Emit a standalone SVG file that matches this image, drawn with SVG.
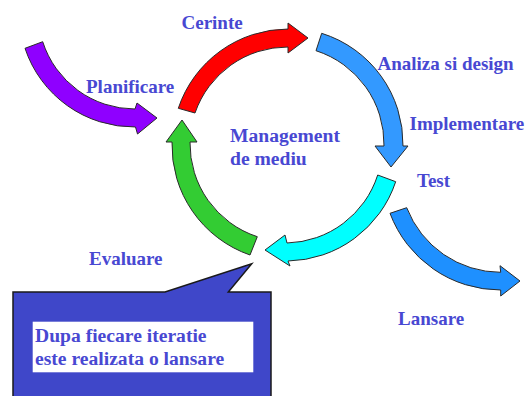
<svg xmlns="http://www.w3.org/2000/svg" width="529" height="396" viewBox="0 0 529 396">
  <style>
    .lbl { font-family: "Liberation Serif", "Times New Roman", serif; font-weight: bold; font-size: 19px; fill: #4848D2; }
    .big { font-size: 19.6px; }
    .arr { stroke: #2a2a2a; stroke-width: 1; stroke-linejoin: miter; }
  </style>
  <rect width="529" height="396" fill="#ffffff"/>
  <g id="connectors">
    <path id="arrow-planificare" class="arr" fill="#8F00FF" d="M25,48.3 A115,115 0 0 0 135.5,127 L137.5,134 L157,118 L137,103 L135,109 A97,97 0 0 1 42.7,41.7 Z"/>
    <path id="arrow-cerinte" class="arr" fill="#FF0000" d="M178.3,108.3 A116,116 0 0 1 288,29 L288,23 L308,38 L288,53 L288,47 A98,98 0 0 0 195,113 Z"/>
    <path id="arrow-analiza" class="arr" fill="#3399FF" d="M321.7,33.3 A116,116 0 0 1 403,146 L408,146 L391,167 L375,146 L384,146 A98,98 0 0 0 316,50.7 Z"/>
    <path id="arrow-test" class="arr" fill="#00FFFF" d="M395.7,181.7 A116,116 0 0 1 288,261 L290,266 L265,250 L285,235 L287,243 A98,98 0 0 0 377.7,175 Z"/>
    <path id="arrow-evaluare" class="arr" fill="#33CC33" d="M250,255 A116,116 0 0 1 172,142 L166,142 L182,120 L197,142 L190,142 A98,98 0 0 0 257.3,236.7 Z"/>
    <path id="arrow-lansare" class="arr" fill="#1E90FF" d="M390,213.3 A118,118 0 0 0 500.7,290 L500.7,296 L520,281 L500,265.7 L500.7,272.3 A101,101 0 0 1 406.7,207.7 Z"/>
  </g>
  <g id="node-cerinte"><text class="lbl" x="181.5" y="29">Cerinte</text></g>
  <g id="node-planificare"><text class="lbl" x="86" y="93">Planificare</text></g>
  <g id="node-management"><text class="lbl big" x="230" y="141.5">Management</text><text class="lbl big" x="230" y="165">de mediu</text></g>
  <g id="node-analiza"><text class="lbl" x="377.5" y="70">Analiza si design</text></g>
  <g id="node-implementare"><text class="lbl" x="409.5" y="130">Implementare</text></g>
  <g id="node-test"><text class="lbl" x="417" y="186.5">Test</text></g>
  <g id="node-evaluare"><text class="lbl" x="89" y="265">Evaluare</text></g>
  <g id="node-lansare"><text class="lbl" x="398" y="325">Lansare</text></g>
  <g id="node-callout">
    <path d="M13,292 L165,292 L251.7,263.7 L228.3,292 L271,292 L271,400 L13,400 Z" fill="#3F47C9" stroke="#1a1a1a" stroke-width="1.5"/>
    <rect x="32.7" y="321.7" width="220.6" height="50.6" fill="#ffffff"/>
    <text class="lbl big" x="35" y="342.3">Dupa fiecare iteratie</text>
    <text class="lbl big" x="35" y="365">este realizata o lansare</text>
  </g>
</svg>
